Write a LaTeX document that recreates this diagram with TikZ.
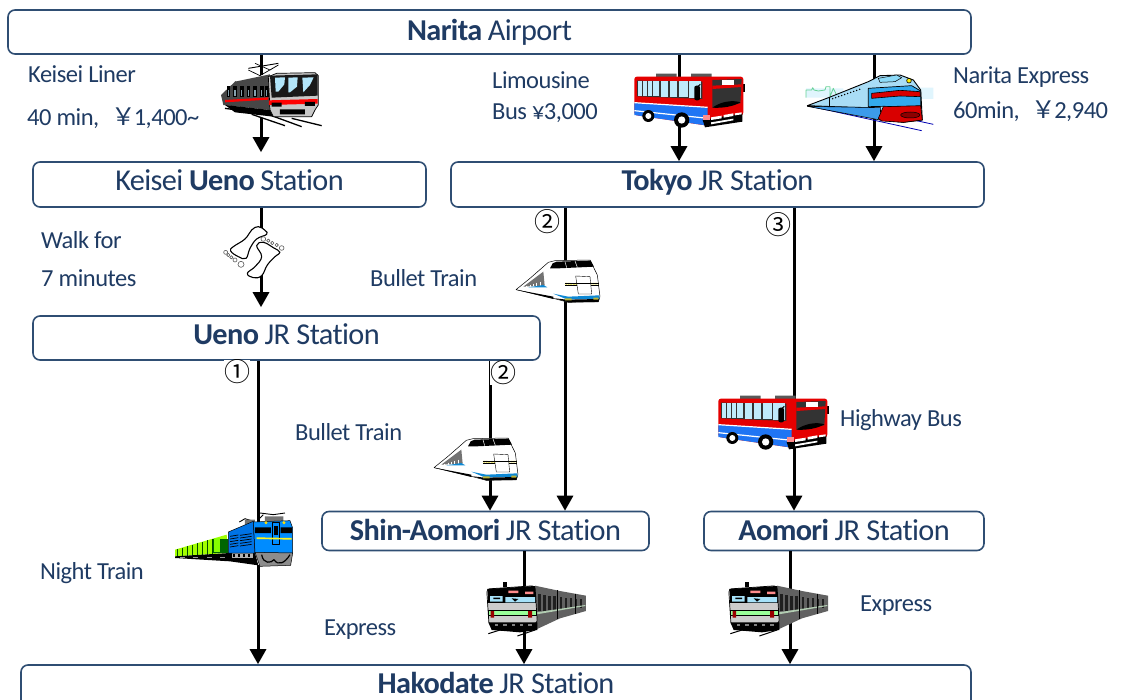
\documentclass[tikz,border=0pt]{standalone}
\usepackage{fontspec}
\setmainfont[LetterSpace=-2,Ligatures=NoCommon]{Carlito}
\newfontfamily\circfont{Noto Sans CJK JP}
\usetikzlibrary{arrows.meta,calc}
\definecolor{ink}{HTML}{1F3B63}
\definecolor{edge}{HTML}{2F4E73}
\definecolor{skyb}{HTML}{A9DDF6}
\definecolor{midb}{HTML}{3C9BEA}
\newcommand{\yenwide}{{\circfont ￥}}
\tikzset{
 x=1pt,y=-1pt,
 stationbox/.style={draw=edge,line width=1.6pt,rounded corners=7pt,fill=white,inner sep=0pt,text=ink,font=\fontsize{30.3}{32}\selectfont,text depth=10pt,text height={10pt+2*#1}},
 lbl/.style={text=ink,font=\fontsize{24.5}{26}\selectfont,inner sep=0pt,anchor=base west},
 link/.style={line width=3pt,black},
 arr/.style={link,-{Triangle[width=16pt,length=15pt]}},
 num/.style={inner sep=0pt,font=\circfont\fontsize{26}{26}\selectfont,text=black,fill=white},
 zoomed/.style={x=.3333pt,y=-.3333pt,line join=round},
 commuterA/.pic={\begin{scope}[zoomed]
   \fill[white] (20,60) rectangle (310,190);
   \draw[line width=.7pt] (100,45)--(135,62)--(190,30)--(165,45)--(120,25) (60,80)--(95,95)--(75,105);
   \draw[line width=.9pt] (100,40)--(190,25);
   \draw[line width=1.3pt] (30,160)--(170,180)(110,178)--(210,212)(230,190)--(320,212)(170,182)--(260,215);
   \fill[black!72] (18,120)--(60,80)--(165,58)--(165,165)--(25,150)--cycle;
   \foreach \i in {35,55,75,95,115,135,150}{\fill[black] (\i,92) rectangle +(11,34);\fill[cyan!40!black!60] (\i+3,104) rectangle +(4,18);}
   \fill[red] (30,135)--(160,127)--(160,134)--(30,142)--cycle;
   \fill[black] (30,150)--(165,165)--(175,185)--(60,172)--cycle;
   \fill[black!22,draw=black,line width=.7pt] (160,65)--(185,55)--(300,53)--(310,62)--(310,150)--(300,165)--(290,185)--(175,185)--(165,165)--cycle;
   \fill[black!90] (165,62)--(308,58)--(308,122)--(170,128)--cycle;
   \fill[cyan!30] (180,68)--(210,67)--(208,88)--(190,110)--(182,110)--cycle (220,68)--(248,67)--(246,95)--(225,112)--(220,112)--cycle (262,68)--(296,67)--(285,90)--(265,112)--cycle;
   \fill[red] (162,136)--(308,132)--(308,146)--(162,150)--cycle;
   \fill[black] (170,143) rectangle (200,155)(270,141) rectangle (300,153)(195,163) rectangle (270,178);
 \end{scope}},
 busicon/.pic={\begin{scope}[zoomed]
   \fill[white] (30,40) rectangle (350,170);
   \fill[black!65] (93,26) rectangle (155,38) (198,26) rectangle (260,38);
   \fill[black] (350,58) rectangle (361,82);
   \fill[red!90!black,rounded corners=2.5pt] (28,150)--(28,35)--(355,35)--(355,150)--(248,182)--cycle;
   \fill[midb!60!blue!85!cyan] (28,113)--(248,128)--(248,182)--(235,180)--(28,150)--cycle;
   \draw[white,line width=1.2pt] (28,113)--(248,127) (28,137)--(248,160);
   \fill[black!80] (36,47)--(232,50)--(232,102)--(36,94)--cycle;
   \foreach \a/\b in {38/50,53/66,68/81,85/103,108/129,134/156,161/188,192/228}{
     \fill[cyan!25] (\a,49) rectangle (\b,{92+(\a-38)*.04});}
   \fill[black,rounded corners=2pt] (208,62) rectangle (225,106);
   \draw[black,line width=1pt] (226,58)--(218,65);
   \fill[black!80] (262,45)--(350,42)--(346,115)--(262,128)--cycle;
   \fill[black] (262,128) .. controls (290,108) and (325,105) .. (346,112) .. controls (325,125) and (290,130) .. (262,128) -- cycle;
   \fill[red!90!black] (262,62)--(350,58)--(350,66)--(262,72)--cycle;
   \fill[white] (290,44) rectangle (326,60);
   \fill[black] (233,165)--(352,145)--(352,170)--(240,187)--cycle;
   \fill[white] (258,157)--(290,152)--(290,160)--(258,165)--cycle (296,150)--(325,145)--(325,153)--(296,158)--cycle (258,172)--(325,161)--(325,166)--(258,178)--cycle (330,145)--(350,142)--(350,148)--(330,151)--cycle;
   \fill[red!45!white] (233,150) rectangle (255,165);
   \fill[black] (70,153) circle[radius=18];
   \fill[white] (70,153) circle[radius=9];
   \fill[black] (170,165) circle[radius=23];
   \fill[white] (170,165) circle[radius=11];
 \end{scope}},
 expressicon/.pic={\begin{scope}[zoomed]
   \fill[cyan!12] (18,70) rectangle (130,98) (355,68) rectangle (400,102);
   \draw[green!55!cyan!70!black!60,line width=.8pt] (18,98)--(18,75)--(35,75)--(38,68)--(42,75)--(55,78)--(75,75)--(78,65)--(90,65)--(90,95)--(100,70)--(110,90);
   \draw[blue!70!black,line width=.8pt] (22,122)--(365,197) (340,165)--(400,178);
   \fill[skyb,draw=black,line width=.9pt] (22,122)--(88,97)--(205,50)--(240,32)--(300,30)--(340,45)--(362,75)--(367,165)--(310,172)--(240,165)--(235,130)--cycle;
   \fill[midb,draw=black,line width=.6pt] (22,124)--(242,128)--(240,165)--cycle;
   \draw[black,line width=.8pt] (88,97)--(88,125);
   \fill[midb!85!cyan,draw=black,line width=.7pt] (205,70)--(335,62)--(362,78)--(362,125)--(250,124)--(205,125)--cycle;
   \fill[red!85!black,draw=black,line width=.6pt] (215,85)--(300,76)--(360,80)--(361,95)--(300,93)--(215,100)--cycle;
   \fill[red!85!black,draw=black,line width=.6pt] (235,160)--(250,125)--(362,122)--(367,165)--(310,172)--(245,168)--cycle;
   \fill[red!55!black,draw=black,line width=.5pt] (331,150) ellipse[x radius=29,y radius=9];
   \fill[white!55!cyan,draw=black,line width=.5pt] (235,40)--(290,30)--(305,38)--(285,50)--(240,52)--cycle;
   \fill[yellow,draw=black,line width=.6pt] (327,47) circle[radius=7];
   \foreach \i in {0,...,9}{\fill[black] ({98+\i*9},{101-\i*3.1}) circle[radius=2.4];}
 \end{scope}},
 bulleticon/.pic={\begin{scope}[zoomed]
   \fill[white,draw=black,line width=.5pt] (18,104)--(60,70)--(115,22)--(135,17)--(240,15)--(262,60)--(270,125)--(265,140)--(175,142)--(130,130)--cycle;
   \fill[black!55] (40,95)--(100,50)--(104,92)--cycle;
   \foreach \i in {50,60,...,95}{\draw[white,line width=.4pt] (\i,{95-(\i-40)*.3}) -- (\i,95);}
   \fill[cyan!70!blue] (55,97)--(100,90)--(112,97)--cycle;
   \fill[black] (18,104)--(130,125)--(130,132)--cycle;
   \fill[black] (120,40)--(128,25)--(140,20)--(242,17)--(252,35)--(145,40)--cycle;
   \draw[white,line width=.5pt] (165,20)--(170,38) (195,18)--(202,37);
   \fill[cyan!70!blue] (130,116)--(175,125)--(268,121)--(268,132)--(170,133)--cycle;
   \fill[black] (135,130)--(170,134)--(268,132)--(265,141)--(175,142)--cycle;
   \draw[yellow!85!black,line width=1.6pt,dash pattern=on 2pt off .6pt] (165,86)--(205,87) (240,86)--(266,86);
   \draw[black,line width=.4pt] (165,84)--(268,84)(165,90)--(268,90);
   \fill[yellow!70!black] (165,130) rectangle (185,136) (250,128) rectangle (265,134);
   \draw[black,line width=.4pt,fill=white] (197,63)--(240,65)--(245,117)--(205,117)--cycle;
   \draw[black,line width=.4pt] (197,85)--(243,85);
 \end{scope}},
 commuterB/.pic={\begin{scope}[zoomed]
   \draw[line width=1pt] (25,176)--(70,162) (112,183)--(165,165);
   \fill[black] (70,22) rectangle (80,36);
   \fill[black!62] (165,32)--(240,48)--(318,62)--(318,108)--(240,130)--(165,165)--cycle;
   \foreach \i in {175,190,205,220,240,255,270,285,300}{\fill[black!88] (\i,{58+(\i-175)*.12}) rectangle +(7,{50-(\i-175)*.2});}
   \fill[green!35!black!30] (170,112)--(316,90)--(316,93)--(170,118)--cycle;
   \draw[black,line width=.6pt] (232,46)--(232,132) (285,56)--(285,116);
   \fill[black!20,draw=black,line width=.7pt,rounded corners=3pt] (20,42)--(165,32)--(172,145)--(27,150)--cycle;
   \fill[black] (22,42)--(165,33)--(167,62)--(24,60)--cycle;
   \fill[black] (24,60) rectangle (168,85);
   \fill[cyan!35] (30,63) rectangle (68,80) (76,66) rectangle (165,82);
   \fill[black] (40,68) rectangle (60,72) (95,70)--(115,72)--(105,80)--cycle;
   \fill[red!45] (85,47) rectangle (115,54) (135,50) rectangle (160,57);
   \fill[green!50!white!80,draw=black,line width=.5pt] (25,105) rectangle (168,120);
   \fill[red!60!black] (32,108) rectangle (42,128) (144,108) rectangle (156,128);
   \fill[black] (25,142)--(172,142)--(172,165)--(120,172)--(35,165)--cycle;
   \foreach \i in {45,70,95,120,145}{\fill[black!50] (\i,147) rectangle +(10,6);}
 \end{scope}},
 nighticon/.pic={\begin{scope}[zoomed]
   \fill[white] (20,50) rectangle (360,170);
   \draw[line width=.9pt] (208,42)--(225,32)--(250,40) (270,15)--(310,20)--(345,15)(280,20)--(265,35);
   \fill[black!55] (225,35) rectangle (255,50) (285,25) rectangle (340,40);
   \fill[lime!85!green] (15,125)--(170,80)--(175,135)--(15,145)--cycle;
   \foreach \i in {20,35,...,125}{\fill[black!70!green] (\i,{125-(\i-15)*.29}) rectangle +(3,{20+(\i-15)*.29});}
   \fill[green!40!black] (128,92) rectangle (175,135);
   \fill[lime!70!green] (133,90) rectangle (150,133);
   \fill[black] (15,145)--(180,135)--(255,135)--(265,172)--(180,160)--(15,150)--cycle;
   \foreach \i in {30,70,110,150}{\fill[black!40] (\i,148) rectangle +(15,3);}
   \fill[black!30] (185,135) rectangle (250,150);
   \foreach \i in {190,205,220,235}{\fill[black] (\i,138) rectangle +(4,10);}
   \fill[blue!50!cyan!90!black,draw=black,line width=.5pt] (175,72)--(250,40)--(255,135)--(175,135)--cycle;
   \foreach \j in {85,93,101,109,117}{\draw[black,line width=.7pt] (180,\j)--(205,\j-4) (210,\j-3)--(245,\j-8);}
   \fill[blue!45!cyan,draw=black,line width=.5pt] (250,42)--(360,38)--(368,60)--(368,135)--(255,135)--cycle;
   \fill[black!45,draw=black,line width=.5pt] (255,133)--(368,135)--(362,172)--(270,175)--cycle;
   \draw[black,line width=1.2pt] (275,140) .. controls (280,170) and (305,165) .. (312,155) .. controls (325,175) and (345,165) .. (360,140);
   \fill[black] (255,58) rectangle (303,75) (332,58) rectangle (366,75);
   \fill[yellow!80!orange] (288,44) circle[radius=5] (342,44) circle[radius=5];
   \draw[black,line width=.6pt] (308,43) rectangle (328,110);
   \fill[black] (313,55) rectangle (323,80);
   \fill[yellow!90!white] (260,88)--(365,90)--(365,95)--(260,93)--cycle;
 \end{scope}},
 footicon/.pic={\begin{scope}[zoomed]
   \fill[white] (95,50) rectangle (175,165);
   \draw[black,line width=1.1pt,fill=white] plot[smooth cycle,tension=.7] coordinates {(165,46)(145,35)(125,45)(105,72)(70,95)(62,108)(85,125)(108,130)(120,100)(140,72)(170,58)};
   \draw[black,line width=1.1pt,fill=white] plot[smooth cycle,tension=.7] coordinates {(140,92)(160,82)(190,98)(210,112)(195,125)(172,150)(155,182)(130,188)(112,175)(135,155)(155,125)};
   \foreach \x/\y/\r in {47/112/6,55/120/5,64/127/5,75/135/6,93/148/9}{\draw[black!65,line width=.6pt,fill=white] (\x,\y) circle[radius=\r];}
   \foreach \x/\y/\r in {160/72/7,175/77/5,187/84/5,200/90/5,215/99/7}{\draw[black!65,line width=.6pt,fill=white] (\x,\y) circle[radius=\r];}
 \end{scope}}
}
\begin{document}
\begin{tikzpicture}
\path[use as bounding box,clip] (0,0) rectangle (1121,699);
% stations
\node[stationbox=8,minimum width=963pt,minimum height=44pt] (narita) at (489.5,32) {\textbf{Narita} Airport};
\node[stationbox=6,minimum width=393pt,minimum height=45pt] (keisei) at (229.5,184.5) {Keisei \textbf{Ueno} Station};
\node[stationbox=6,minimum width=533pt,minimum height=45pt] (tokyo) at (717.5,184.5) {\textbf{Tokyo} JR Station};
\node[stationbox=6,minimum width=507pt,minimum height=44pt] (ueno) at (286.5,338) {\textbf{Ueno} JR Station};
\node[stationbox=9.5,minimum width=327pt,minimum height=38pt] (shin) at (485.5,531) {\textbf{Shin-Aomori} JR Station};
\node[stationbox=9.5,minimum width=280pt,minimum height=38pt] (aomori) at (844,531) {\textbf{Aomori} JR Station};
\node[stationbox=6,minimum width=950pt,minimum height=44pt] (hako) at (496,687) {\textbf{Hakodate} JR Station};
% connector columns
\coordinate (ca) at (261,0);
\coordinate (cb) at (679,0);
\coordinate (cc) at (874,0);
\coordinate (cd) at (565,0);
\coordinate (ce) at (794,0);
\coordinate (cf) at (490,0);
\coordinate (cg) at (258,0);
\coordinate (ch) at (524,0);
\coordinate (ci) at (790,0);
% connectors
\draw[arr,shorten >=9pt] (narita.south -| ca) -- (keisei.north -| ca);
\draw[arr] (narita.south -| cb) -- (tokyo.north -| cb);
\draw[arr] (narita.south -| cc) -- (tokyo.north -| cc);
\draw[arr,shorten >=8pt] (keisei.south -| ca) -- (ueno.north -| ca);
\draw[arr] (tokyo.south -| cd) -- (shin.north -| cd);
\draw[arr] (tokyo.south -| ce) -- (aomori.north -| ce);
\draw[arr] (ueno.south -| cf) -- (shin.north -| cf);
\draw[arr] (ueno.south -| cg) -- (hako.north -| cg);
\draw[arr] (shin.south -| ch) -- (hako.north -| ch);
\draw[arr] (aomori.south -| ci) -- (hako.north -| ci);
% icons
\pic at (215,55) {commuterA};
\pic at (625,65) {busicon};
\pic at (709,387) {busicon};
\pic at (800,65) {expressicon};
\pic at (510,255) {bulleticon};
\pic at (428,433) {bulleticon};
\pic at (170,508) {nighticon};
\pic at (480,575) {commuterB};
\pic at (722,575) {commuterB};
\pic at (210,215) {footicon};
% labels
\node[lbl] (l1) at (28,82) {Keisei Liner};
\node[lbl] (l2) at (27,125) {40 min,\hspace{12pt}\yenwide\hspace{-2pt}1,400\textasciitilde};
\node[lbl] (l3) at (492,88) {Limousine};
\node[lbl] (l4) at (492,119) {Bus ¥3,000};
\node[lbl] (l5) at (953,83) {Narita Express};
\node[lbl] (l6) at (953,118) {60min,\hspace{12pt}\yenwide\hspace{-2pt}2,940};
\node[lbl] (l7) at (41,248) {Walk for};
\node[lbl] (l8) at (41,286) {7 minutes};
\node[lbl] (l9) at (370,286) {Bullet Train};
\node[lbl] (l10) at (295,440) {Bullet Train};
\node[lbl] (l11) at (840,426) {Highway Bus};
\node[lbl] (l12) at (40,579) {Night Train};
\node[lbl] (l13) at (324,635) {Express};
\node[lbl] (l14) at (860,611) {Express};
\node[num] (n1) at (237,372) {①};
\node[num] (n2) at (503,373) {②};
\node[num] (n3) at (547,222) {②};
\node[num] (n4) at (778,225) {③};
\end{tikzpicture}
\end{document}
